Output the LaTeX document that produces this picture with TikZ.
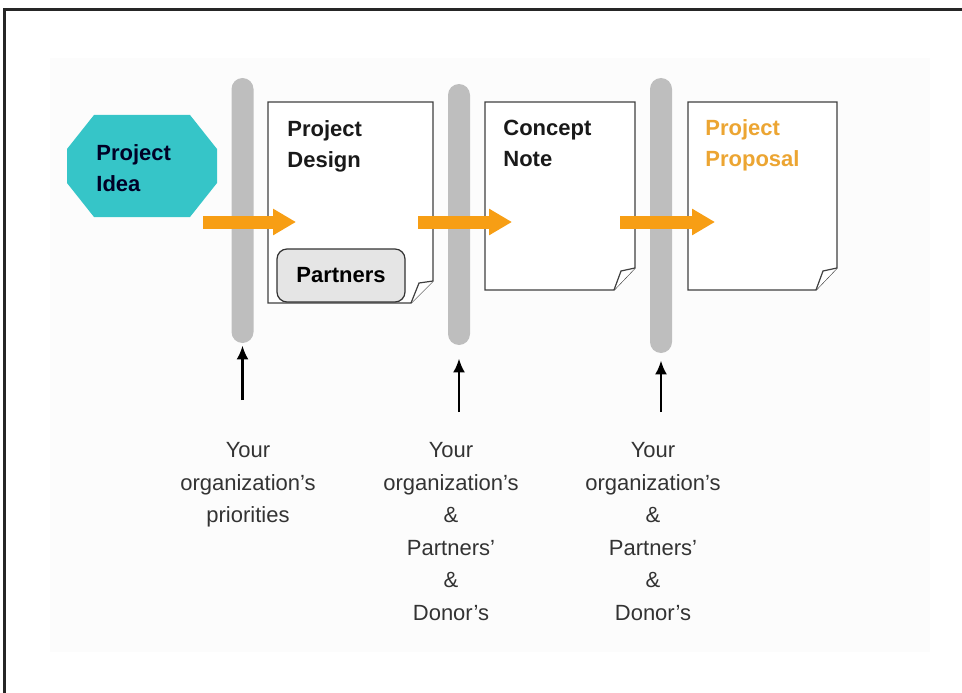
\documentclass[tikz,border=0pt]{standalone}
\usepackage{fontspec}
\setmainfont{Liberation Sans}
\usepackage{tikz}
\usetikzlibrary{arrows.meta,positioning}

\definecolor{ideacyan}{RGB}{54,197,200}
\definecolor{floworange}{RGB}{247,158,20}
\definecolor{proporange}{RGB}{236,165,50}
\definecolor{gatebar}{RGB}{190,190,190}

\begin{document}
\begin{tikzpicture}[
        x=1pt, y=-1pt,
        every node/.style={inner sep=0pt, align=left},
        every path/.style={thick},
        title/.style={font=\fontsize{22}{31}\selectfont\bfseries, anchor=north west, text=black!90},
        note/.style={font=\fontsize{22}{32.6}\selectfont, align=center, anchor=north, text=black!80},
        gate/.style={fill=gatebar, rounded corners=11pt, minimum width=22pt},
        page/.style={draw=black!75, line width=1.2pt, fill=white},
        flow/.style={draw=floworange, line width=13pt, -{Triangle[length=23pt,width=25pt]}},
        need/.style={draw=black, line width=2.6pt, -{Latex[length=14pt,width=12pt]}}
    ]
    \useasboundingbox (0,0) rectangle (962,693);

    % Frame
    \fill[black!1] (50,58) rectangle (930,652);
    \draw[line width=3pt, black!85] (4,693) -- (4,10) -- (962,10);

    % Gates
    \node[gate, minimum height=265pt] (gate1) at (242.5,210.5) {};
    \node[gate, minimum height=261pt] (gate2) at (459,214.5) {};
    \node[gate, minimum height=275pt] (gate3) at (661,215.5) {};

    % Pages
    \draw[page] (268,102) -- (433,102) -- (433,281) -- (411,303) -- (268,303) -- cycle;
    \draw[page] (433,281) -- (419,283) -- (411,303);
    \draw[page] (485,102) -- (635,102) -- (635,268) -- (614,290) -- (485,290) -- cycle;
    \draw[page] (635,268) -- (621,271) -- (614,290);
    \draw[page] (688,102) -- (837,102) -- (837,268) -- (816,290) -- (688,290) -- cycle;
    \draw[page] (837,268) -- (823,271) -- (816,290);

    % Nodes
    \fill[ideacyan] (94,115) -- (190,115) -- (217,149) -- (217,183) -- (190,217)
        -- (94,217) -- (67,183) -- (67,149) -- cycle;
    \node[title, text=black!85!blue] (idea) at (96,144) {Project\\Idea};
    \node[title] (design) at (287,120) {Project\\Design};
    \node[title] (concept) at (503,120) {Concept\\Note};
    \node[title, text=proporange] (proposal) at (705,119) {Project\\Proposal};
    \node[draw=black!80, line width=1.2pt, fill=black!10, rounded corners=10pt,
        minimum width=128pt, minimum height=53pt, align=center,
        font=\fontsize{22}{26}\selectfont\bfseries] (partners) at (341,275.5) {Partners};

    \node[note] (need1) at (248,442) {Your\\organization's\\priorities};
    \node[note] (need2) at (451,442) {Your\\organization's\\\&\\Partners'\\\&\\Donor's};
    \node[note] (need3) at (653,442) {Your\\organization's\\\&\\Partners'\\\&\\Donor's};

    % Edges
    \coordinate (go1) at (203,222);
    \coordinate (in1) at (296,222);
    \coordinate (go2) at (418,222);
    \coordinate (in2) at (512,222);
    \coordinate (go3) at (620,222);
    \coordinate (in3) at (715,222);
    \draw[flow] (go1) -- (in1);
    \draw[flow] (go2) -- (in2);
    \draw[flow] (go3) -- (in3);

    \coordinate (up1) at (242.5,400);
    \coordinate (up2) at (459,412);
    \coordinate (up3) at (661,412);
    \draw[need] (up1) -- ([yshift=-2pt]gate1.south);
    \draw[need] (up2) -- ([yshift=-13pt]gate2.south);
    \draw[need] (up3) -- ([yshift=-7pt]gate3.south);

\end{tikzpicture}
\end{document}
